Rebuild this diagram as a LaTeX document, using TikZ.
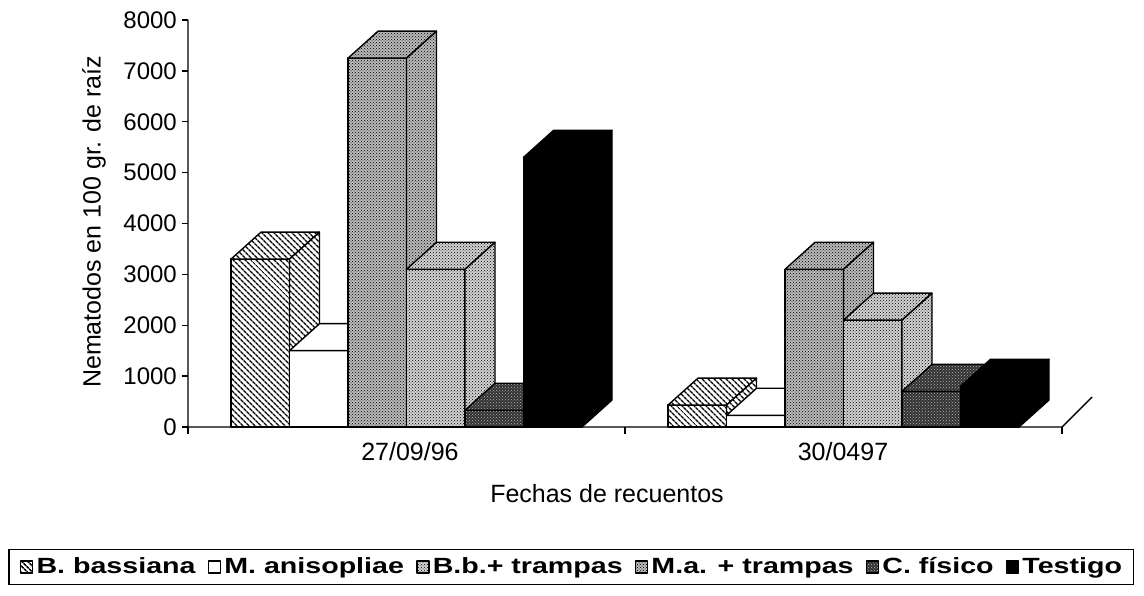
\documentclass[tikz,border=0pt]{standalone}
\usepackage{fontspec}
\setmainfont{Liberation Sans}
\newfontfamily\keyfont[FakeStretch=1.3]{Liberation Sans Bold}
\usetikzlibrary{positioning}
\usetikzlibrary{patterns,patterns.meta}
\usetikzlibrary{fit}

% one 3-D column: left edge, value, style
\newcommand\drawcol[3]{%
  \pgfmathsetmacro\ytop{427-#2*0.050875}
  \path[#3] (#1,427) rectangle (#1+58.5,\ytop);
  \path[#3] (#1,\ytop) -- ++(30,-27) -- ++(58.5,0) -- (#1+58.5,\ytop) -- cycle;
  \path[#3] (#1+58.5,427) -- ++(30,-27) -- (#1+88.5,\ytop-27) -- (#1+58.5,\ytop) -- cycle;
}

\begin{document}
\begin{tikzpicture}[x=1pt,y=-1pt]
    \tikzset{bar/.style={draw=black, line width=1.4pt, line join=round},
             bbas/.style={bar, preaction={fill=white}, pattern={Lines[angle=-45,distance=4pt,line width=1.6pt]}},
             mani/.style={bar, fill=white},
             bbtr/.style={bar, preaction={fill=gray!55}, pattern=crosshatch dots},
             matr/.style={bar, preaction={fill=gray!35}, pattern=crosshatch dots},
             cfis/.style={bar, preaction={fill=black!80}, pattern=crosshatch dots, pattern color=gray!60},
             test/.style={bar, fill=black},
             axis/.style={line width=1.4pt},
             ticklab/.style={font=\fontsize{24}{26}\selectfont, inner sep=0pt},
             axlab/.style={font=\fontsize{25}{28}\selectfont, inner sep=0pt},
             key/.style={minimum size=12pt, inner sep=0pt, line width=0.9pt},
             keytext/.style={font=\keyfont\fontsize{22}{24}\selectfont, inner sep=0pt, text height=16pt, text depth=4pt},
    }
    \useasboundingbox (0,0) rectangle (1144,596);

    % axes
    \coordinate (top) at (188,20);
    \coordinate (orig) at (188,427);
    \coordinate (xend) at (1062,427);
    \coordinate (xback) at (1092,397);
    \draw[axis] (top) -- (orig) -- (xend) -- (xback);
    \foreach \v in {0,...,8} {
        \pgfmathtruncatemacro\lab{\v*1000}
        \draw[axis] (182,427-\v*50.875) -- (188,427-\v*50.875);
        \node[ticklab, anchor=east] (y\v) at (177,427-\v*50.875) {\lab};
    }
    \foreach \x in {188,625,1062}
        \draw[axis] (\x,427) -- (\x,434);

    % columns 27/09/96
    \drawcol{231}{3300}{bbas}
    \drawcol{289.5}{1500}{mani}
    \drawcol{348}{7250}{bbtr}
    \drawcol{406.5}{3100}{matr}
    \drawcol{465}{330}{cfis}
    \drawcol{523.5}{5300}{test}
    % columns 30/04/97
    \drawcol{668}{430}{bbas}
    \drawcol{726.5}{230}{mani}
    \drawcol{785}{3100}{bbtr}
    \drawcol{843.5}{2100}{matr}
    \drawcol{902}{700}{cfis}
    \drawcol{960.5}{800}{test}

    % labels
    \node[axlab] (d1) at (410,452) {27/09/96};
    \node[axlab] (d2) at (843,452) {30/0497};
    \node[axlab] (xt) at (607,494) {Fechas de recuentos};
    \node[axlab, rotate=90] (yt) at (94,222) {Nematodos en 100 gr. de raíz};

    % legend
    \node[key, bbas, anchor=west] (k1) at (20,567) {};
    \node[keytext, right=3pt of k1] (t1) {B. bassiana};
    \node[key, mani, right=12pt of t1] (k2) {};
    \node[keytext, right=3pt of k2] (t2) {M. anisopliae};
    \node[key, matr, right=12pt of t2] (k3) {};
    \node[keytext, right=3pt of k3] (t3) {B.b.+ trampas};
    \node[key, bbtr, right=12pt of t3] (k4) {};
    \node[keytext, right=3pt of k4] (t4) {M.a. + trampas};
    \node[key, cfis, right=12pt of t4] (k5) {};
    \node[keytext, right=3pt of k5] (t5) {C. físico};
    \node[key, test, right=12pt of t5] (k6) {};
    \node[keytext, right=3pt of k6] (t6) {Testigo};
    \node[draw, line width=1.3pt, fit=(k1)(t6), inner xsep=11pt, inner ysep=7pt] (legend) {};
\end{tikzpicture}
\end{document}
